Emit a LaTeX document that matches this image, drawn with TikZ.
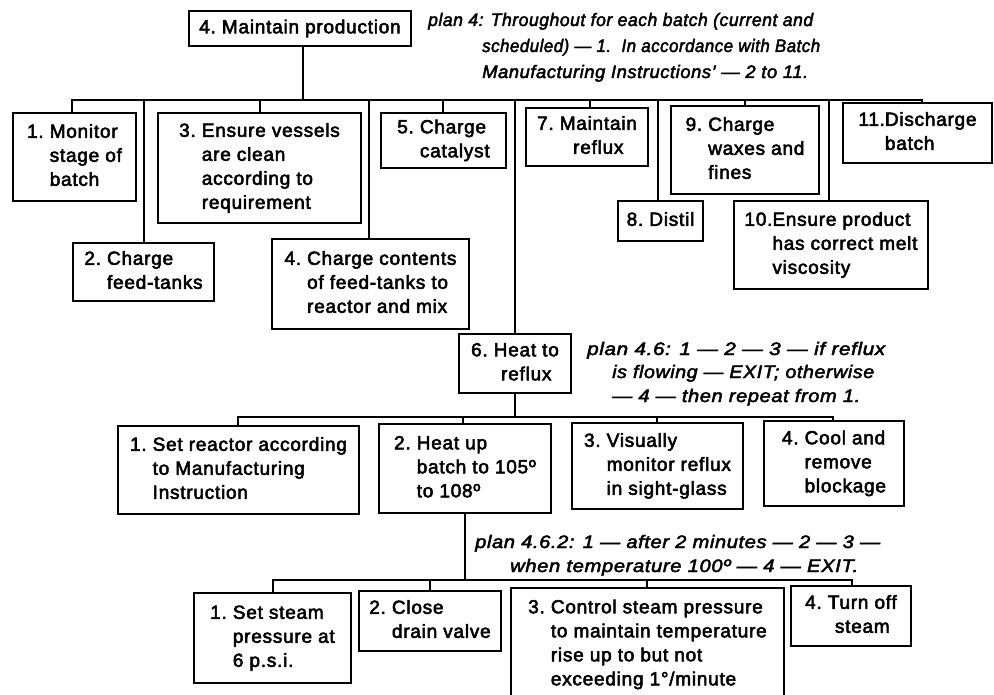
\documentclass[tikz,border=0pt]{standalone}
\usepackage{graphicx}
\usepackage{fontspec}
\setmainfont{Liberation Sans}[LetterSpace=4,FakeBold=2.8]
\newfontfamily\planfont{Liberation Sans}[LetterSpace=3,FakeBold=2.4]
\newcommand\taskfont{\fontsize{19}{24}\selectfont}
\newcommand\nsp{\hbox{\ }}
% task label: number column followed by the (hanging) description lines
\newcommand\numbered[3][l]{\begin{tabular}[t]{@{}l@{}}#2\end{tabular}\begin{tabular}[t]{@{}#1@{}}#3\end{tabular}}
% one line of a plan, set to a given width
\newcommand\planline[2]{\resizebox{#1pt}{\height}{#2}}
\tikzset{
  task/.style={draw, line width=2pt, inner sep=0pt, anchor=north west, font=\taskfont},
  link/.style={line width=2pt},
  plan/.style={anchor=base west, inner sep=0pt, font=\planfont\itshape\fontsize{18}{24}\selectfont},
}
\begin{document}
\begin{tikzpicture}[x=1pt,y=-1pt]
\useasboundingbox (0,0) rectangle (994,695);
\fill[white] (0,0) rectangle (994,695);
\clip (0,0) rectangle (994,695);

% ---- top task and its plan
\node[task,minimum width=222,minimum height=35] (top) at (188,10) {\numbered{4.\nsp}{Maintain production}};
\node[plan] (p4a) at (428,26) {\planline{385}{plan 4: Throughout for each batch (current and}};
\node[plan] (p4b) at (482,52) {\planline{338}{scheduled) — 1.\ \ In accordance with Batch}};
\node[plan] (p4c) at (482,78) {\planline{326}{Manufacturing Instructions’ — 2 to 11.}};

% ---- subtasks of 4
\node[task,minimum width=123,minimum height=88] (a1) at (12,112) {\numbered{1.\nsp}{Monitor\\stage of\\batch}};
\node[task,minimum width=141,minimum height=58] (a2) at (72,242) {\numbered{2.\nsp}{Charge\\feed-tanks}};
\node[task,minimum width=203,minimum height=110] (a3) at (157,112) {\numbered{3.\nsp}{Ensure vessels\\are clean\\according to\\requirement}};
\node[task,minimum width=197,minimum height=90] (a4) at (271,238) {\numbered{4.\nsp}{Charge contents\\of feed-tanks to\\reactor and mix}};
\node[task,minimum width=125,minimum height=55] (a5) at (380,112) {\numbered{5.\nsp}{Charge\\catalyst}};
\node[task,minimum width=112,minimum height=59] (a6) at (458,333) {\numbered[c]{6.\nsp}{Heat to\\reflux}};
\node[task,minimum width=122,minimum height=58] (a7) at (525,107) {\numbered[c]{7.\nsp}{Maintain\\reflux}};
\node[task,minimum width=85,minimum height=40] (a8) at (617,200) {\numbered{8.\nsp}{Distil}};
\node[task,minimum width=148,minimum height=88] (a9) at (670,105) {\numbered{9.\nsp}{Charge\\waxes and\\fines}};
\node[task,minimum width=194,minimum height=88] (a10) at (733,200) {\numbered{10.}{Ensure product\\has correct melt\\viscosity}};
\node[task,minimum width=149,minimum height=60] (a11) at (842,102) {\numbered{11.}{Discharge\\batch}};

% ---- subtasks of 4.6
\node[plan] (p46a) at (587,355) {\planline{298}{plan 4.6: 1 — 2 — 3 — if reflux}};
\node[plan] (p46b) at (612,378) {\planline{262}{is flowing — EXIT; otherwise}};
\node[plan] (p46c) at (612,402) {\planline{248}{— 4 — then repeat from 1.}};
\node[task,minimum width=241,minimum height=88] (b1) at (117,425) {\numbered{1.\nsp}{Set reactor according\\to Manufacturing\\Instruction}};
\node[task,minimum width=172,minimum height=89] (b2) at (378,423) {\numbered{2.\nsp}{Heat up\\batch to 105º\\to 108º}};
\node[task,minimum width=171,minimum height=86] (b3) at (571,422) {\numbered{3.\nsp}{Visually\\monitor reflux\\in sight-glass}};
\node[task,minimum width=140,minimum height=85] (b4) at (763,420) {\numbered{4.\nsp}{Cool and\\remove\\blockage}};

% ---- subtasks of 4.6.2
\node[plan] (p462a) at (475,548) {\planline{405}{plan 4.6.2: 1 — after 2 minutes — 2 — 3 —}};
\node[plan] (p462b) at (510,572) {\planline{348}{when temperature 100º — 4 — EXIT.}};
\node[task,minimum width=157,minimum height=90] (c1) at (193,592) {\numbered{1.\nsp}{Set steam\\pressure at\\6 p.s.i.}};
\node[task,minimum width=142,minimum height=60] (c2) at (358,590) {\numbered{2.\nsp}{Close\\drain valve}};
\node[task,minimum width=273,minimum height=113] (c3) at (510,587) {\numbered{3.\nsp}{Control steam pressure\\to maintain temperature\\rise up to but not\\exceeding 1°/minute}};
\node[task,minimum width=120,minimum height=60] (c4) at (790,585) {\numbered[c]{4.\nsp}{Turn off\\steam}};

% ---- level 1 bus
\coordinate (j0) at (303,100);
\coordinate (k1) at (72,100);  \coordinate (k2) at (144,100);
\coordinate (k3) at (260,100); \coordinate (k4) at (369,100);
\coordinate (k5) at (443,100); \coordinate (k6) at (515,100);
\coordinate (k7) at (590,100); \coordinate (k8) at (658,100);
\coordinate (k9) at (745,100); \coordinate (k10) at (829,100);
\coordinate (k11) at (922,100);
\draw[link] (top.south -| j0) -- (j0);
\draw[link] (k1 |- a1.north) -- (k1) -- (k11) -- (k11 |- a11.north);
\foreach \i in {2,...,10} \draw[link] (k\i) -- (k\i |- a\i.north);

% ---- level 2 bus
\coordinate (m1) at (238,417); \coordinate (m2) at (463,417);
\coordinate (m3) at (657,417); \coordinate (m4) at (833,417);
\draw[link] (a6.south) -- (a6.south |- m1);
\draw[link] (m1 |- b1.north) -- (m1) -- (m4) -- (m4 |- b4.north);
\draw[link] (m2) -- (m2 |- b2.north);
\draw[link] (m3) -- (m3 |- b3.north);

% ---- level 3 bus
\coordinate (n1) at (273,580); \coordinate (n2) at (430,580);
\coordinate (n3) at (647,580); \coordinate (n4) at (852,580);
\draw[link] (b2.south) -- (b2.south |- n1);
\draw[link] (n1 |- c1.north) -- (n1) -- (n4) -- (n4 |- c4.north);
\draw[link] (n2) -- (n2 |- c2.north);
\draw[link] (n3) -- (n3 |- c3.north);
\end{tikzpicture}
\end{document}
